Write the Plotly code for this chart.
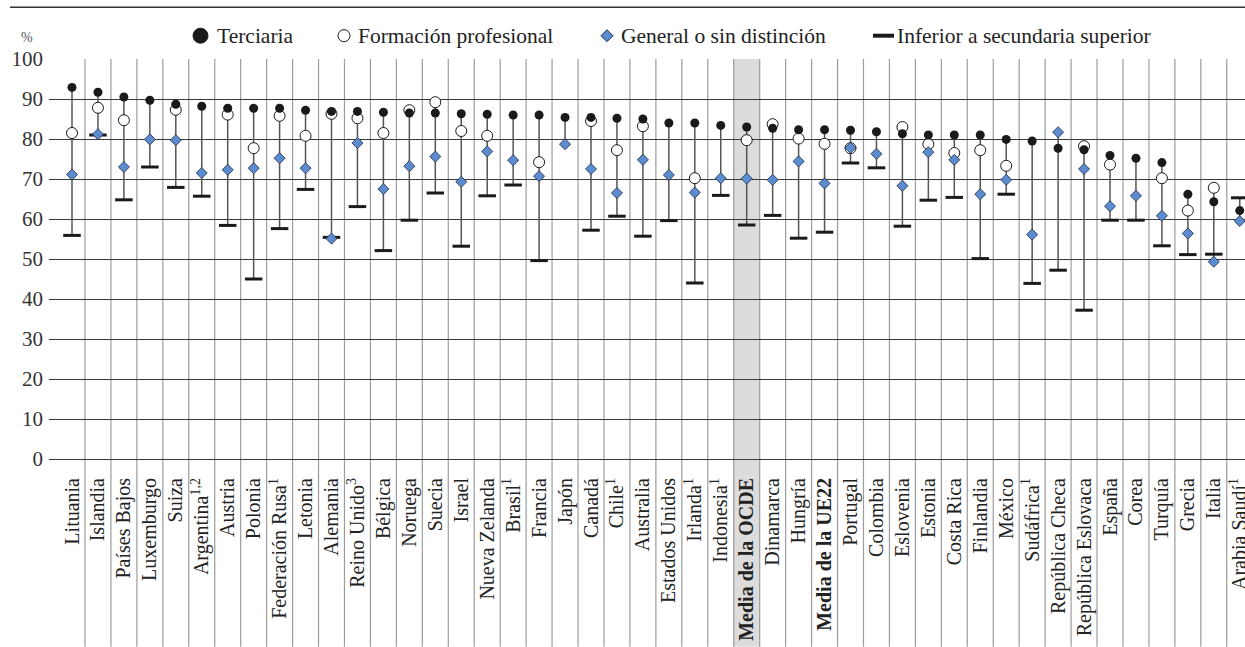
import plotly.graph_objects as go

# =====================================
# DATA
# =====================================

countries = [
    "Lituania", "Islandia", "Países Bajos", "Luxemburgo", "Suiza",
    "Argentina<sup>1,2</sup>", "Austria", "Polonia", "Federación Rusa<sup>1</sup>",
    "Letonia", "Alemania", "Reino Unido<sup>3</sup>", "Bélgica", "Noruega",
    "Suecia", "Israel", "Nueva Zelanda", "Brasil<sup>1</sup>", "Francia", "Japón",
    "Canadá", "Chile<sup>1</sup>", "Australia", "Estados Unidos",
    "Irlanda<sup>1</sup>", "Indonesia<sup>1</sup>", "<b>Media de la OCDE</b>",
    "Dinamarca", "Hungría", "<b>Media de la UE22</b>", "Portugal", "Colombia",
    "Eslovenia", "Estonia", "Costa Rica", "Finlandia", "México",
    "Sudáfrica<sup>1</sup>", "República Checa", "República Eslovaca", "España",
    "Corea", "Turquía", "Grecia", "Italia", "Arabia Saudí<sup>1</sup>",
]

terciaria = [
    92.9, 91.7, 90.5, 89.7, 88.7, 88.2, 87.7, 87.7, 87.7, 87.2,
    86.9, 86.9, 86.7, 86.5, 86.5, 86.3, 86.2, 86.0, 86.0, 85.4,
    85.4, 85.2, 85.0, 84.0, 84.0, 83.4, 83.0, 82.7, 82.3, 82.3,
    82.2, 81.8, 81.3, 81.0, 81.0, 81.0, 79.9, 79.5, 77.7, 77.3,
    75.9, 75.2, 74.1, 66.2, 64.3, 62.1,
]

formacion = [
    81.5, 87.8, 84.7, None, 87.3, None, 86.1, 77.7, 85.8, 80.8,
    86.3, 85.2, 81.5, 87.2, 89.2, 82.0, 80.8, None, 74.2, None,
    84.5, 77.2, 83.2, None, 70.2, None, 79.7, 83.7, 80.1, 78.8,
    77.7, None, 83.0, 78.7, 76.5, 77.2, 73.3, None, None, 78.2,
    73.6, None, 70.2, 62.1, 67.8, None,
]

general = [
    71.1, 81.2, 73.0, 79.9, 79.7, 71.5, 72.3, 72.7, 75.2, 72.7,
    55.1, 79.0, 67.5, 73.2, 75.6, 69.3, 76.9, 74.7, 70.7, 78.7,
    72.5, 66.5, 74.8, 71.0, 66.6, 70.2, 70.1, 69.8, 74.4, 68.9,
    77.8, 76.3, 68.3, 76.7, 74.8, 66.2, 69.8, 56.1, 81.7, 72.5,
    63.2, 65.8, 60.8, 56.4, 49.3, 59.5,
]

inferior = [
    55.9, 81.0, 64.8, 73.0, 67.9, 65.7, 58.4, 45.0, 57.6, 67.4,
    55.4, 63.1, 52.1, 59.7, 66.5, 53.2, 65.8, 68.5, 49.6, None,
    57.2, 60.7, 55.7, 59.6, 44.0, 65.9, 58.5, 60.9, 55.2, 56.7,
    74.0, 72.8, 58.2, 64.7, 65.4, 50.1, 66.2, 43.9, 47.2, 37.2,
    59.7, 59.7, 53.3, 51.1, 51.2, 65.3,
]

y_ticks = list(range(0, 101, 10))
highlight = "<b>Media de la OCDE</b>"

FONT = "Liberation Serif"
W, H = 1245, 647
L, T, B = 49, 59.3, 187.7
PLOT_H = H - T - B
PLOT_W = W - L

idx = list(range(len(countries)))


def px_x(px):
    return (px - L) / PLOT_W


def px_y(py):
    return (H - B - py) / PLOT_H


# =====================================
# STEMS
# =====================================

stem_x = []
stem_y = []
for i in idx:
    vals = [v for v in (terciaria[i], formacion[i], general[i], inferior[i]) if v is not None]
    stem_x += [i, i, None]
    stem_y += [max(vals), min(vals), None]

fig = go.Figure()

fig.add_trace(
    go.Scatter(
        x=stem_x, y=stem_y, mode="lines",
        line=dict(color="#555555", width=1.5),
        hoverinfo="skip", showlegend=False, cliponaxis=False
    )
)

fig.add_trace(
    go.Scatter(
        x=idx, y=inferior, mode="markers", name="Inferior a secundaria superior",
        marker=dict(symbol="line-ew", size=12.5, line=dict(color="#1a1a1a", width=3)),
        showlegend=False
    )
)

fig.add_trace(
    go.Scatter(
        x=idx, y=formacion, mode="markers", name="Formación profesional",
        marker=dict(symbol="circle", size=11, color="white",
                    line=dict(color="#1a1a1a", width=1)),
        showlegend=False
    )
)

fig.add_trace(
    go.Scatter(
        x=idx, y=general, mode="markers", name="General o sin distinción",
        marker=dict(symbol="diamond", size=8.5, color="#5b8ccf",
                    line=dict(color="#1f2a44", width=0.8)),
        showlegend=False
    )
)

fig.add_trace(
    go.Scatter(
        x=idx, y=terciaria, mode="markers", name="Terciaria",
        marker=dict(symbol="circle", size=9, color="#1a1a1a"),
        showlegend=False
    )
)

# =====================================
# BACKGROUND: OECD BAND + COLUMN LINES
# =====================================

shapes = []
band_i = countries.index(highlight)
shapes.append(dict(
    type="rect", xref="x", yref="paper", layer="below",
    x0=band_i - 0.5, x1=band_i + 0.5, y0=px_y(647), y1=1,
    fillcolor="#dcdcdc", line=dict(width=0)
))
for i in idx[:-1]:
    shapes.append(dict(
        type="line", xref="x", yref="paper", layer="below",
        x0=i + 0.5, x1=i + 0.5, y0=px_y(647), y1=1,
        line=dict(color="#9c9c9c", width=1.2)
    ))

# rule under title
shapes.append(dict(
    type="line", xref="paper", yref="paper",
    x0=px_x(10), x1=1.0, y0=px_y(7.5), y1=px_y(7.5),
    line=dict(color="#333333", width=1.5)
))

# =====================================
# LEGEND (drawn by hand)
# =====================================

ly = px_y(36)
legend_marks = [
    ("circle", 200.5, 15, "#1a1a1a", "#1a1a1a", 215, "Terciaria"),
    ("circle", 344, 12, "white", "#1a1a1a", 356, "Formación profesional"),
    ("diamond", 607, 12, "#5b8ccf", "#1f2a44", 619, "General o sin distinción"),
    ("bar", 883.5, 21, "#1a1a1a", "#1a1a1a", 895, "Inferior a secundaria superior"),
]

annotations = []
for kind, cx, size, fill, edge, tx, label in legend_marks:
    r = size / 2
    if kind == "circle":
        shapes.append(dict(
            type="circle", xref="paper", yref="paper",
            xsizemode="pixel", ysizemode="pixel",
            xanchor=px_x(cx), yanchor=ly,
            x0=-r, x1=r, y0=-r, y1=r,
            fillcolor=fill, line=dict(color=edge, width=1)
        ))
    elif kind == "diamond":
        shapes.append(dict(
            type="path", xref="paper", yref="paper",
            xsizemode="pixel", ysizemode="pixel",
            xanchor=px_x(cx), yanchor=ly,
            path=f"M {-r} 0 L 0 {r} L {r} 0 L 0 {-r} Z",
            fillcolor=fill, line=dict(color=edge, width=1)
        ))
    else:
        shapes.append(dict(
            type="rect", xref="paper", yref="paper",
            xsizemode="pixel", ysizemode="pixel",
            xanchor=px_x(cx), yanchor=ly,
            x0=-r, x1=r, y0=-2, y1=2,
            fillcolor=fill, line=dict(width=0)
        ))
    annotations.append(dict(
        xref="paper", yref="paper", x=px_x(tx), y=ly,
        xanchor="left", yanchor="middle", showarrow=False,
        text=label, font=dict(family=FONT, size=21.5, color="#222222")
    ))

annotations.append(dict(
    xref="paper", yref="paper", x=px_x(27), y=px_y(38),
    xanchor="center", yanchor="middle", showarrow=False,
    text="%", font=dict(family=FONT, size=14, color="#555555")
))

annotations.append(dict(
    xref="paper", yref="paper", x=px_x(462), y=px_y(2),
    xanchor="left", yanchor="bottom", showarrow=False,
    text="<b>y por programa</b> (2019)",
    font=dict(family=FONT, size=24, color="#222222")
))

# =====================================
# LAYOUT
# =====================================

fig.update_layout(
    width=W, height=H,
    margin=dict(l=L, r=0, t=T, b=B, pad=0, autoexpand=False),
    paper_bgcolor="white", plot_bgcolor="rgba(0,0,0,0)",
    showlegend=False,
    shapes=shapes,
    annotations=annotations,
    font=dict(family=FONT, color="#222222"),
)

fig.update_xaxes(
    range=[(L - 72) / 25.95, (W - 72) / 25.95],
    tickmode="array", tickvals=idx, ticktext=countries,
    tickangle=-90, tickfont=dict(family=FONT, size=20, color="#222222"),
    ticks="", showgrid=False, zeroline=False, showline=False,
    ticklabelstandoff=14, automargin=False, ticklabeloverflow="allow",
)

fig.update_yaxes(
    range=[0, 100],
    tickmode="array", tickvals=y_ticks,
    tickfont=dict(family=FONT, size=21, color="#333333"),
    ticks="", showgrid=True, gridcolor="#3a3a3a", gridwidth=1,
    zeroline=True, zerolinecolor="#3a3a3a", zerolinewidth=1,
    showline=False, ticklabelstandoff=5, automargin=False,
)

fig.write_html(
    "out.html",
    config={"displayModeBar": False},
    post_script="document.body.style.margin='0';document.body.style.overflow='hidden';"
)
